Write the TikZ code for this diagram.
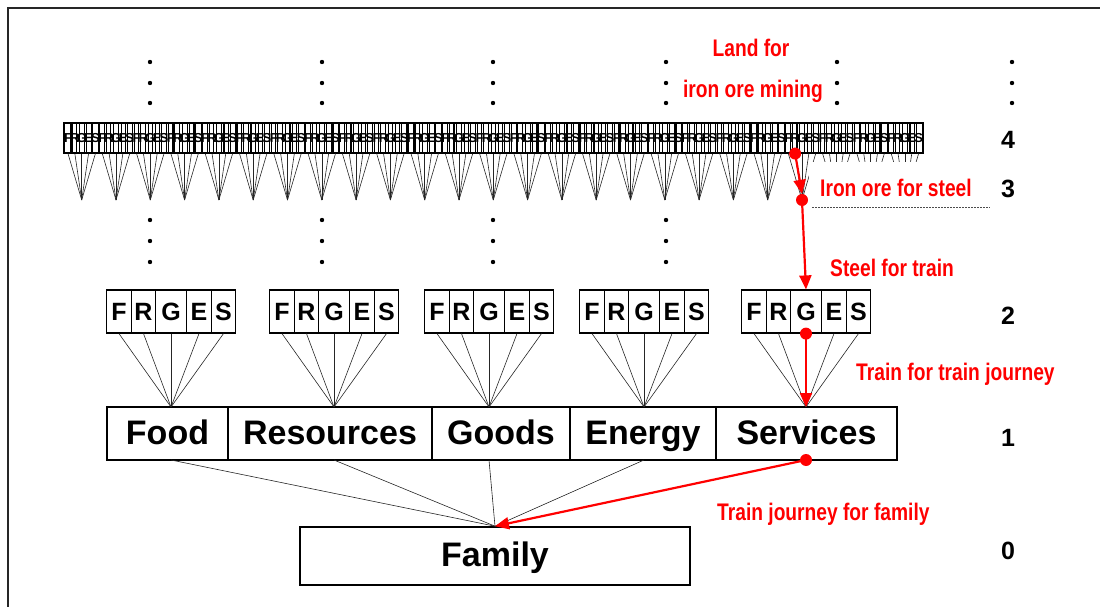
\documentclass[tikz,border=0pt]{standalone}
\usepackage{fontspec}
\setmainfont{Liberation Sans}
\newfontfamily\narrowfont[FakeStretch=0.8]{Liberation Sans}
\usetikzlibrary{arrows.meta}

\begin{document}
\begin{tikzpicture}[x=1pt,y=-1pt,
  bigbox/.style={draw,line width=1.6pt,minimum height=53pt,inner sep=0pt,text height=25pt,text depth=4pt,font=\fontsize{34}{38}\selectfont\bfseries},
  cell/.style={draw,line width=1.2pt,minimum height=43pt,inner sep=0pt,text height=18pt,text depth=0pt,font=\fontsize{25}{28}\selectfont\bfseries},
  tinycell/.style={draw,line width=1.1pt,minimum height=30pt,minimum width=6.86pt,inner sep=0pt,font=\fontsize{13}{14}\selectfont\bfseries},
  lvl/.style={font=\fontsize{25}{28}\selectfont\bfseries},
  redlbl/.style={text=red,inner sep=0pt,font=\fontsize{24}{26}\narrowfont\bfseries},
  flow/.style={red,line width=2.2pt,-{Triangle[length=14pt,width=12pt]}},
  reddot/.style={circle,fill=red,inner sep=0pt,minimum size=12pt},
  tie/.style={line width=0.6pt,black!85}
]
  \useasboundingbox (0,0) rectangle (1100,607);

  %--- Cadre ---
  \draw[line width=1.5pt,black!85] (8,607) -- (8,8) -- (1100,8);

  %--- Niveau 0 ---
  \node[bigbox,minimum width=390pt,minimum height=58pt] (fam) at (495,556) {Family};

  %--- Niveau 1 ---
  \foreach \nm/\lft/\rgt/\txt in {food/107/228/Food,res/228/432/Resources,goods/432/570/Goods,energy/570/716/Energy,serv/716/897/Services}
    \node[bigbox,minimum width={(\rgt-\lft)*1pt}] (\nm) at ({(\lft+\rgt)/2},433.5) {\txt};

  %--- Niveau 2 (F R G E S) ---
  \foreach \g/\cx in {1/171,2/334,3/489,4/644,5/806} {
    \coordinate (a\g) at (\cx,407);   % sommet sur le niveau 1
    \coordinate (b\g) at (\cx,460);   % depart vers la famille
    \foreach \l/\off/\w in {F/0/25,R/25/24,G/49/31,E/80/25,S/105/24} {
      \node[cell,minimum width=\w pt] (c\g\l) at ({\cx-64.5+\off+\w/2},311.5) {\l};
      \draw[tie] (c\g\l.south) -- (a\g);
    }
    \draw[tie] (b\g) -- (fam.north);
  }

  %--- Niveaux 4 et 3 ---
  \foreach \i in {0,...,24} {
    \pgfmathsetmacro\cx{81.7+34.3*\i}
    \coordinate (d\i) at (\cx,200);   % sommet niveau 3
    \foreach \l [count=\k from 0] in {F,R,G,E,S} {
      \node[tinycell] (t\i\l) at ({\cx+(\k-2)*6.86},138) {\raisebox{-3pt}{\l}};
      \draw[tie] (t\i\l.south) -- (d\i);
    }
  }

  %--- Points de suspension ---
  \foreach \x in {150,322,493,666,837,1012}
    \foreach \y in {62,83,103}
      \fill (\x,\y) circle (2.2pt);
  \foreach \x in {150,322,493,666}
    \foreach \y in {220,241,262}
      \fill (\x,\y) circle (2.2pt);

  %--- Numeros des niveaux ---
  \node[lvl] (n4) at (1008,140) {4};
  \node[lvl] (n3) at (1008,189) {3};
  \node[lvl] (n2) at (1008,316) {2};
  \node[lvl] (n1) at (1008,438) {1};
  \node[lvl] (n0) at (1008,551) {0};

  %--- Cache sous l'etiquette ---
  \fill[white] (809,162) rectangle (992,206);
  \draw[dash pattern=on 1.5pt off 1.5pt,line width=0.7pt,black!70] (812,207) -- (990,207);

  %--- Chemin rouge ---
  \node[reddot] (p4) at (t21R.south) {};
  \node[reddot] (p3) at (d21) {};
  \node[reddot] (p2) at (c5G.south) {};
  \node[reddot] (p1) at (b5) {};
  \draw[flow] (p4.center) -- (p3.north);
  \draw[flow] (p3.center) -- (c5G.north);
  \draw[flow] (p2.center) -- (a5);
  \draw[flow] (p1.center) -- (fam.north);

  %--- Etiquettes ---
  \node[redlbl] (lLand) at (751,48) {Land for};
  \node[redlbl] (lMine) at (753,91) {iron ore mining};
  \node[redlbl,anchor=west] (lIron) at (820,188) {Iron ore for steel};
  \node[redlbl,anchor=west] (lSteel) at (830,268) {Steel for train};
  \node[redlbl,anchor=west] (lTrain) at (856,374) {Train for train journey};
  \node[redlbl,anchor=west] (lJourney) at (717,514) {Train journey for family};

\end{tikzpicture}
\end{document}
